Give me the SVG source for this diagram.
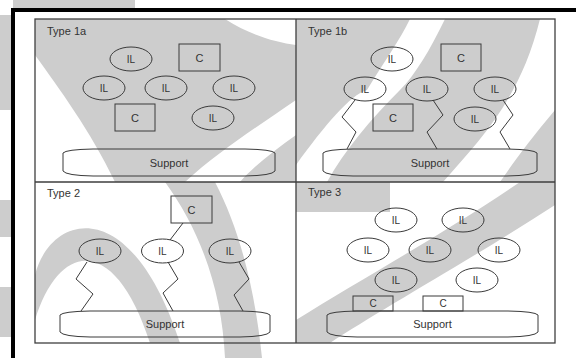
<svg xmlns="http://www.w3.org/2000/svg" width="576" height="358" viewBox="0 0 576 358">
  <style>
    .wm { fill: #cdcdcd; }
    .wh { fill: #ffffff; }
    .ln { fill: none; stroke: #3a3a3a; stroke-width: 1; }
    .panel { fill: none; stroke: #3f3f3f; stroke-width: 1.3; }
    .frame { fill: none; stroke: #000; stroke-width: 4; }
    .t { font-family: "Liberation Sans", Arial, sans-serif; fill: #333; }
    .lbl { font-size: 11px; }
    .mid { font-size: 10px; text-anchor: middle; }
    .sup { font-size: 11px; text-anchor: middle; }
  </style>

  <!-- background emblem -->
  <g id="watermark">
    <rect class="wm" x="13" y="0" width="122" height="8"/>
    <rect class="wm" x="0" y="15" width="11" height="95"/>
    <rect class="wm" x="0" y="200" width="11" height="37"/>
    <rect class="wm" x="0" y="287" width="11" height="50"/>
    <!-- upper left -->
    <rect class="wm" x="35" y="19" width="261" height="163"/>
    <path class="wh" d="M35,55 C60,90 90,130 115,182 L35,182 Z"/>
    <path class="wh" d="M185,182 C220,150 260,125 296,100 L296,135 C275,150 255,165 240,182 Z"/>
    <path class="wh" d="M225,19 L296,19 L296,45 C275,42 250,35 225,19 Z"/>
    <!-- upper right -->
    <rect class="wm" x="296" y="19" width="259" height="163"/>
    <path class="wh" d="M296,165 C325,125 350,95 367,90 C385,60 400,40 410,19 L445,19 C430,50 415,75 400,90 C370,120 345,150 327,182 L296,182 Z"/>
    <path class="wh" d="M443,182 C480,140 520,100 540,19 L555,19 L555,110 C530,140 515,160 500,182 Z"/>
    <!-- lower left -->
    <path class="wm" d="M35,275 C50,215 130,190 180,343 L150,343 C115,235 60,240 35,320 Z"/>
    <path class="wm" d="M165,182 L215,182 C240,230 255,290 262,358 L225,358 C222,290 200,230 165,182 Z"/>
    <!-- lower right -->
    <rect class="wm" x="296" y="182" width="94" height="30"/>
    <path class="wm" d="M296,320 C360,280 450,230 520,182 L555,182 L555,205 C470,260 380,310 330,343 L296,343 Z"/>
  </g>

  <!-- outer frame and panel grid -->
  <g id="frame">
    <path class="frame" d="M13,358 L13,10 L576,10"/>
    <rect class="panel" x="35" y="19" width="520" height="324"/>
    <path class="panel" d="M296,19 L296,343 M35,182 L555,182"/>
  </g>

  <!-- panel titles -->
  <g id="titles">
    <text class="t lbl" x="47" y="35">Type 1a</text>
    <text class="t lbl" x="308" y="35">Type 1b</text>
    <text class="t lbl" x="47" y="197">Type 2</text>
    <text class="t lbl" x="308" y="196">Type 3</text>
  </g>

  <!-- connectors: tethers and links -->
  <g id="connectors">
    <polyline class="ln" points="355,100 342,117 356,132 347,149"/>
    <polyline class="ln" points="433,100 443,115 427,132 437,149"/>
    <polyline class="ln" points="503,100 513,115 500,132 510,149"/>
    <polyline class="ln" points="87,262 76,279 93,294 81,311"/>
    <polyline class="ln" points="168,262 178,279 163,293 173,311"/>
    <polyline class="ln" points="239,262 249,279 234,295 243,311"/>
    <line class="ln" x1="183" y1="223" x2="170" y2="240"/>
  </g>

  <!-- Type 1a -->
  <g id="t1a-il1"><ellipse class="ln" cx="131" cy="59" rx="21" ry="12"/><text class="t mid" x="131" y="62.5">IL</text></g>
  <g id="t1a-il2"><ellipse class="ln" cx="104" cy="88" rx="21" ry="12"/><text class="t mid" x="104" y="91.5">IL</text></g>
  <g id="t1a-il3"><ellipse class="ln" cx="166" cy="88" rx="21" ry="12"/><text class="t mid" x="166" y="91.5">IL</text></g>
  <g id="t1a-il4"><ellipse class="ln" cx="234" cy="88" rx="21" ry="12"/><text class="t mid" x="234" y="91.5">IL</text></g>
  <g id="t1a-il5"><ellipse class="ln" cx="213" cy="118" rx="21" ry="12"/><text class="t mid" x="213" y="121.5">IL</text></g>
  <g id="t1a-c1"><rect class="ln" x="179" y="44" width="41" height="27"/><text class="t sup" x="199.5" y="61.5">C</text></g>
  <g id="t1a-c2"><rect class="ln" x="115" y="104" width="40" height="27"/><text class="t sup" x="135" y="121.5">C</text></g>
  <g id="t1a-support"><path class="ln" d="M63,153 Q66,149.5 93,149 L245,149 Q272,149.5 275,153 L275,171 Q272,175.5 245,176 L93,176 Q66,175.5 63,171 Z"/><text class="t sup" x="169" y="166.5">Support</text></g>

  <!-- Type 1b -->
  <g id="t1b-il1"><ellipse class="ln" cx="392" cy="59" rx="21" ry="12"/><text class="t mid" x="392" y="62.5">IL</text></g>
  <g id="t1b-il2"><ellipse class="ln" cx="365" cy="89" rx="21" ry="12"/><text class="t mid" x="365" y="92.5">IL</text></g>
  <g id="t1b-il3"><ellipse class="ln" cx="427" cy="89" rx="21" ry="12"/><text class="t mid" x="427" y="92.5">IL</text></g>
  <g id="t1b-il4"><ellipse class="ln" cx="495" cy="89" rx="21" ry="12"/><text class="t mid" x="495" y="92.5">IL</text></g>
  <g id="t1b-il5"><ellipse class="ln" cx="475" cy="119" rx="21" ry="12"/><text class="t mid" x="475" y="122.5">IL</text></g>
  <g id="t1b-c1"><rect class="ln" x="441" y="44" width="40" height="27"/><text class="t sup" x="461" y="61.5">C</text></g>
  <g id="t1b-c2"><rect class="ln" x="373" y="104" width="40" height="27"/><text class="t sup" x="393" y="121.5">C</text></g>
  <g id="t1b-support"><path class="ln" d="M323,153 Q326,149.5 353,149 L507,149 Q534,149.5 537,153 L537,171 Q534,175.5 507,176 L353,176 Q326,175.5 323,171 Z"/><text class="t sup" x="430" y="166.5">Support</text></g>

  <!-- Type 2 -->
  <g id="t2-c"><rect class="ln" x="171" y="196" width="41" height="27"/><text class="t sup" x="191.5" y="213.5">C</text></g>
  <g id="t2-il1"><ellipse class="ln" cx="100" cy="251" rx="21" ry="12"/><text class="t mid" x="100" y="254.5">IL</text></g>
  <g id="t2-il2"><ellipse class="ln" cx="162.5" cy="251" rx="21" ry="12"/><text class="t mid" x="162.5" y="254.5">IL</text></g>
  <g id="t2-il3"><ellipse class="ln" cx="230" cy="251" rx="21" ry="12"/><text class="t mid" x="230" y="254.5">IL</text></g>
  <g id="t2-support"><path class="ln" d="M60,315 Q63,311.5 90,311 L240,311 Q267,311.5 270,315 L270,332 Q267,336.5 240,337 L90,337 Q63,336.5 60,332 Z"/><text class="t sup" x="165" y="328">Support</text></g>

  <!-- Type 3 -->
  <g id="t3-il1"><ellipse class="ln" cx="396" cy="220" rx="21" ry="12"/><text class="t mid" x="396" y="223.5">IL</text></g>
  <g id="t3-il2"><ellipse class="ln" cx="463" cy="220" rx="21" ry="12"/><text class="t mid" x="463" y="223.5">IL</text></g>
  <g id="t3-il3"><ellipse class="ln" cx="368" cy="250" rx="21" ry="12"/><text class="t mid" x="368" y="253.5">IL</text></g>
  <g id="t3-il4"><ellipse class="ln" cx="430" cy="250" rx="21" ry="12"/><text class="t mid" x="430" y="253.5">IL</text></g>
  <g id="t3-il5"><ellipse class="ln" cx="499" cy="250" rx="21" ry="12"/><text class="t mid" x="499" y="253.5">IL</text></g>
  <g id="t3-il6"><ellipse class="ln" cx="396" cy="280" rx="21" ry="12"/><text class="t mid" x="396" y="283.5">IL</text></g>
  <g id="t3-il7"><ellipse class="ln" cx="477" cy="280" rx="21" ry="12"/><text class="t mid" x="477" y="283.5">IL</text></g>
  <g id="t3-c1"><rect class="ln" x="353" y="296" width="40" height="15"/><text class="t mid" x="373" y="307">C</text></g>
  <g id="t3-c2"><rect class="ln" x="423" y="296" width="40" height="15"/><text class="t mid" x="443" y="307">C</text></g>
  <g id="t3-support"><path class="ln" d="M327,315 Q330,311.5 357,311 L508,311 Q535,311.5 538,315 L538,332 Q535,336.5 508,337 L357,337 Q330,336.5 327,332 Z"/><text class="t sup" x="432.5" y="328">Support</text></g>
</svg>
